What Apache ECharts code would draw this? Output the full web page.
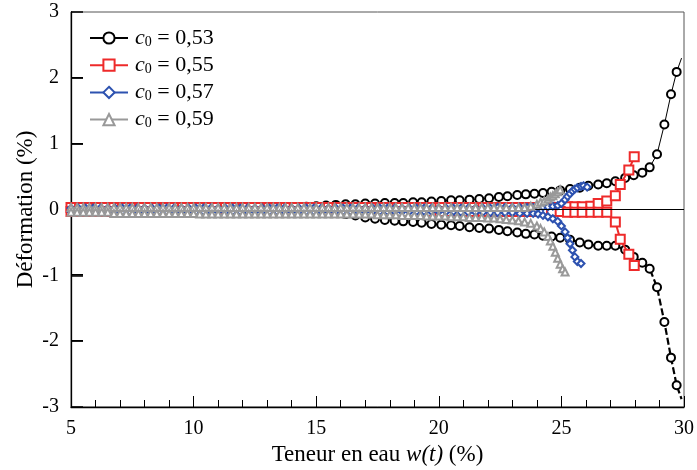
<!DOCTYPE html>
<html><head><meta charset="utf-8">
<script src="https://cdn.jsdelivr.net/npm/echarts@6/dist/echarts.min.js"></script>
<style>html,body{margin:0;padding:0;background:#fff}#c{width:697px;height:470px}</style>
</head><body><div id="c"></div>
<script>
// ---- data ----
const legendNames = ['c0 = 0,53', 'c0 = 0,55', 'c0 = 0,57', 'c0 = 0,59'];
const xTicks = [5, 10, 15, 20, 25, 30];
const yTicks = [-3, -2, -1, 0, 1, 2, 3];

const wBlack = [5.0,5.4,5.8,6.2,6.6,7.0,7.4,7.8,8.2,8.6,9.0,9.4,9.8,10.2,10.6,11.0,11.4,11.8,12.2,12.6,13.0,13.4,13.8,14.2,
  14.6,15.0,15.4,15.8,16.2,16.6,17.0,17.4,17.8,18.2,18.55,18.95,19.3,19.7,20.1,20.5,20.85,21.25,21.65,22.05,
  22.45,22.8,23.2,23.55,23.9,24.25,24.6,24.95,25.35,25.75,26.1,26.5,26.85,27.2,27.6,27.95,28.3,28.6,28.9,29.2,29.47,29.7,29.9];
const blackUp = [0.03,0.03,0.03,0.03,0.03,0.03,0.03,0.03,0.03,0.03,0.03,0.03,0.03,0.03,0.03,0.03,0.03,0.03,0.03,0.03,0.03,0.03,0.03,0.03,
  0.04,0.05,0.06,0.07,0.08,0.08,0.09,0.09,0.10,0.10,0.10,0.11,0.11,0.12,0.13,0.14,0.14,0.15,0.16,0.17,
  0.19,0.20,0.22,0.23,0.24,0.25,0.27,0.29,0.31,0.33,0.36,0.38,0.40,0.43,0.48,0.52,0.56,0.64,0.84,1.29,1.75,2.09,2.30];
const blackLow = [-0.03,-0.03,-0.03,-0.03,-0.03,-0.03,-0.03,-0.03,-0.03,-0.03,-0.03,-0.03,-0.03,-0.03,-0.03,-0.03,-0.03,-0.03,-0.03,-0.03,-0.03,-0.03,-0.03,-0.03,
  -0.03,-0.03,-0.04,-0.05,-0.07,-0.09,-0.12,-0.14,-0.16,-0.17,-0.18,-0.19,-0.20,-0.22,-0.23,-0.24,-0.25,-0.27,-0.28,-0.29,
  -0.31,-0.33,-0.35,-0.37,-0.38,-0.40,-0.41,-0.43,-0.46,-0.50,-0.53,-0.55,-0.55,-0.55,-0.61,-0.72,-0.81,-0.90,-1.18,-1.71,-2.25,-2.67,-2.88];

const wRed = [5.0,5.35,5.7,6.05,6.4,6.75,7.1,7.45,7.8,8.15,8.5,8.85,9.2,9.55,9.9,10.25,10.6,10.95,11.3,11.65,12.0,12.35,12.7,13.05,13.4,13.75,14.1,14.45,14.8,15.15,
  15.5,15.85,16.2,16.55,16.9,17.25,17.6,17.95,18.3,18.65,19.0,19.35,19.7,20.05,20.4,20.75,21.1,21.45,21.8,22.15,22.5,22.85,23.2,23.55,23.9,24.25,24.6,24.95,
  25.25,25.55,25.85,26.2,26.5,26.85,27.2,27.4,27.75,27.97];
const redUp = [0.03,0.03,0.03,0.03,0.03,0.03,0.03,0.03,0.03,0.03,0.03,0.03,0.03,0.03,0.03,0.03,0.03,0.03,0.03,0.03,0.03,0.03,0.03,0.03,0.03,0.03,0.03,0.03,0.03,0.03,
  0.03,0.03,0.03,0.03,0.03,0.03,0.03,0.03,0.03,0.03,0.03,0.03,0.03,0.03,0.03,0.03,0.03,0.03,0.03,0.03,0.03,0.03,0.03,0.03,0.03,0.03,0.03,0.03,
  0.04,0.04,0.04,0.05,0.09,0.13,0.21,0.38,0.60,0.80];
const redLow = [-0.03,-0.03,-0.03,-0.03,-0.03,-0.03,-0.03,-0.03,-0.03,-0.03,-0.03,-0.03,-0.03,-0.03,-0.03,-0.03,-0.03,-0.03,-0.03,-0.03,-0.03,-0.03,-0.03,-0.03,-0.03,-0.03,-0.03,-0.03,-0.03,-0.03,
  -0.03,-0.03,-0.03,-0.03,-0.03,-0.03,-0.03,-0.03,-0.03,-0.03,-0.03,-0.03,-0.03,-0.03,-0.03,-0.03,-0.03,-0.03,-0.03,-0.03,-0.03,-0.03,-0.03,-0.03,-0.03,-0.03,-0.03,-0.03,
  -0.04,-0.04,-0.04,-0.04,-0.04,-0.04,-0.19,-0.45,-0.68,-0.85];

const wBlue = [5.0,5.3,5.6,5.9,6.2,6.5,6.8,7.1,7.4,7.7,8.0,8.3,8.6,8.9,9.2,9.5,9.8,10.1,10.4,10.7,11.0,11.3,11.6,11.9,12.2,12.5,12.8,13.1,13.4,13.7,
  14.0,14.3,14.6,14.9,15.2,15.5,15.8,16.1,16.4,16.7,17.0,17.3,17.6,17.9,18.2,18.5,18.8,19.1,19.4,19.7,20.0,20.3,20.6,20.9,21.2,21.5,21.8,22.1,22.4,22.7,
  23.0,23.3,23.6,23.85,24.05,24.25,24.45,24.65,24.85,25.0,25.15,25.25,25.35,25.45,25.55,25.65,25.8,25.9,26.05];
const blueUp = [0.02,0.02,0.02,0.02,0.02,0.02,0.02,0.02,0.02,0.02,0.02,0.02,0.02,0.02,0.02,0.02,0.02,0.02,0.02,0.02,0.02,0.02,0.02,0.02,0.02,0.02,0.02,0.02,0.02,0.02,
  0.02,0.02,0.02,0.02,0.02,0.02,0.02,0.02,0.02,0.02,0.02,0.02,0.02,0.02,0.02,0.02,0.02,0.02,0.02,0.02,0.02,0.02,0.02,0.02,0.02,0.02,0.02,0.02,0.03,0.03,
  0.03,0.03,0.03,0.03,0.03,0.04,0.04,0.05,0.06,0.09,0.15,0.20,0.24,0.28,0.31,0.33,0.35,0.36,0.34];
const blueLow = [-0.03,-0.03,-0.03,-0.03,-0.03,-0.03,-0.03,-0.03,-0.03,-0.03,-0.03,-0.03,-0.03,-0.03,-0.03,-0.03,-0.03,-0.03,-0.03,-0.03,-0.03,-0.03,-0.03,-0.03,-0.03,-0.03,-0.03,-0.03,-0.03,-0.03,
  -0.03,-0.03,-0.03,-0.03,-0.03,-0.03,-0.03,-0.03,-0.03,-0.03,-0.03,-0.03,-0.03,-0.03,-0.03,-0.03,-0.03,-0.03,-0.03,-0.03,-0.03,-0.03,-0.03,-0.04,-0.04,-0.04,-0.04,-0.05,-0.05,-0.05,
  -0.05,-0.06,-0.06,-0.06,-0.07,-0.09,-0.11,-0.14,-0.18,-0.25,-0.34,-0.43,-0.52,-0.62,-0.72,-0.79,-0.82,null,null];

const wGray = [5,5.25,5.5,5.75,6,6.25,6.5,6.75,7,7.25,7.5,7.75,8,8.25,8.5,8.75,9,9.25,9.5,9.75,10,10.25,10.5,10.75,11,11.25,11.5,11.75,12,12.25,12.5,12.75,13,13.25,13.5,13.75,
  14,14.25,14.5,14.75,15,15.25,15.5,15.75,16,16.25,16.5,16.75,17,17.25,17.5,17.75,18,18.25,18.5,18.75,19,19.25,19.5,19.75,20,20.25,20.5,20.75,21,21.25,21.5,21.75,22,22.25,22.5,22.75,23,23.25,23.5,
  23.75,24.0,24.15,24.3,24.45,24.55,24.65,24.75,24.85,24.95,25.05,25.15];
const grayUp = [0.03,0.03,0.03,0.03,0.03,0.03,0.03,0.03,0.03,0.03,0.03,0.03,0.03,0.03,0.03,0.03,0.03,0.03,0.03,0.03,0.03,0.03,0.03,0.03,0.03,0.03,0.03,0.03,0.03,0.03,0.03,0.03,0.03,0.03,0.03,0.03,
  0.03,0.03,0.03,0.03,0.03,0.03,0.03,0.03,0.03,0.03,0.03,0.03,0.03,0.03,0.03,0.03,0.03,0.03,0.03,0.03,0.03,0.03,0.03,0.03,0.03,0.03,0.03,0.03,0.03,0.03,0.03,0.03,0.03,0.03,0.03,0.03,0.03,0.03,0.03,
  0.05,0.08,0.11,0.13,0.16,0.19,0.21,0.24,0.27,0.30,null,null];
const grayLow = [-0.04,-0.04,-0.04,-0.04,-0.04,-0.04,-0.04,-0.06,-0.06,-0.06,-0.06,-0.06,-0.06,-0.06,-0.06,-0.06,-0.06,-0.06,-0.06,-0.06,-0.06,-0.07,-0.07,-0.07,-0.07,-0.07,-0.07,-0.07,-0.07,-0.07,-0.07,-0.07,-0.07,-0.07,-0.07,-0.07,
  -0.07,-0.07,-0.07,-0.07,-0.07,-0.07,-0.07,-0.07,-0.07,-0.07,-0.07,-0.07,-0.07,-0.07,-0.08,-0.08,-0.08,-0.08,-0.09,-0.09,-0.09,-0.09,-0.10,-0.10,-0.10,-0.10,-0.11,-0.11,-0.11,-0.12,-0.12,-0.12,-0.13,-0.13,-0.14,-0.15,-0.16,-0.17,-0.19,
  -0.21,-0.25,-0.29,-0.34,-0.41,-0.48,-0.56,-0.65,-0.74,-0.83,-0.90,-0.95];

// ---- build ----
const SERIF = '"Liberation Serif", "DejaVu Serif", serif';
function pts(w, d, noLast) {
  const out = [];
  w.forEach((x, i) => {
    if (d[i] === null || d[i] === undefined) return;
    const item = { value: [x, d[i]] };
    if (noLast && i === w.length - 1) item.symbol = 'none';
    out.push(item);
  });
  return out;
}
function mk(name, data, color, symbol, size, lw, ltype, z) {
  return {
    type: 'line', name, data, z,
    symbol, symbolSize: size, showSymbol: true,
    lineStyle: { color, width: lw, type: ltype },
    itemStyle: { color, borderColor: color, borderWidth: 1.1 },
    emphasis: { disabled: true }, animation: false, clip: true
  };
}
const series = [
  mk(legendNames[0], pts(wBlack, blackUp, true), '#000000', 'emptyCircle', 8, 1, 'solid', 2),
  mk(legendNames[0], pts(wBlack, blackLow, true), '#000000', 'emptyCircle', 8, 2.2, [7, 3], 2),
  mk(legendNames[1], pts(wRed, redUp), '#ee2a2a', 'emptyRect', 9, 2, 'solid', 3),
  mk(legendNames[1], pts(wRed, redLow), '#ee2a2a', 'emptyRect', 9, 2, 'solid', 3),
  mk(legendNames[2], pts(wBlue, blueUp), '#2d52b0', 'emptyDiamond', 7, 1, 'solid', 4),
  mk(legendNames[2], pts(wBlue, blueLow), '#2d52b0', 'emptyDiamond', 7, 1, 'solid', 4),
  mk(legendNames[3], pts(wGray, grayUp), '#999999', 'emptyTriangle', 7, 1, 'solid', 5),
  mk(legendNames[3], pts(wGray, grayLow), '#999999', 'emptyTriangle', 7, 1, 'solid', 5)
];
// zero reference line
series[7].markLine = {
  silent: true, symbol: 'none', animation: false,
  label: { show: false },
  lineStyle: { color: '#000', width: 1, type: 'solid' },
  data: [{ yAxis: 0 }]
};

const chart = echarts.init(document.getElementById('c'), null, { renderer: 'canvas' });
chart.setOption({
  backgroundColor: '#fff',
  animation: false,
  textStyle: { fontFamily: SERIF },
  grid: { left: 71, right: 13, top: 12, bottom: 63, show: true, borderColor: '#555', borderWidth: 1,
          backgroundColor: 'transparent', containLabel: false, outerBoundsMode: 'none' },
  legend: {
    data: legendNames, orient: 'vertical', left: 84, top: 22,
    itemWidth: 38, itemHeight: 14, itemGap: 5.2,
    selectedMode: false,
    formatter: n => '{i|c}{s|0}{t|' + n.slice(2) + '}',
    textStyle: {
      fontFamily: SERIF, color: '#000', fontSize: 22, lineHeight: 22,
      rich: {
        i: { fontFamily: SERIF, fontStyle: 'italic', fontSize: 22, lineHeight: 22, color: '#000', padding: [0, 0, 0, 2] },
        s: { fontFamily: SERIF, fontSize: 14, lineHeight: 14, verticalAlign: 'bottom', color: '#000' },
        t: { fontFamily: SERIF, fontSize: 22, lineHeight: 22, color: '#000' }
      }
    }
  },
  xAxis: {
    type: 'value', min: 5, max: 30, interval: 5,
    name: '{a|Teneur en eau }{b|w(t)}{a| (%)}',
    nameLocation: 'middle', nameGap: 35,
    nameTextStyle: { rich: {
      a: { fontFamily: SERIF, fontSize: 23, color: '#000' },
      b: { fontFamily: SERIF, fontSize: 23, fontStyle: 'italic', color: '#000' } } },
    axisLine: { onZero: false, lineStyle: { color: '#000', width: 1.3 } },
    axisTick: { show: true, inside: true, length: 11, lineStyle: { color: '#000', width: 1 } },
    minorTick: { show: true, splitNumber: 5, length: 7, lineStyle: { color: '#000', width: 1 } },
    splitLine: { show: false },
    minorSplitLine: { show: false },
    axisLabel: { margin: 12, fontFamily: SERIF, fontSize: 20, color: '#000',
      formatter: v => (xTicks.indexOf(v) >= 0 ? String(v) : '') }
  },
  yAxis: {
    type: 'value', min: -3, max: 3, interval: 1,
    name: 'Déformation (%)', nameLocation: 'middle', nameGap: 34, nameRotate: 90, nameMoveOverlap: false,
    nameTextStyle: { fontFamily: SERIF, fontSize: 23, color: '#000' },
    axisLine: { show: true, onZero: false, lineStyle: { color: '#000', width: 1.3 } },
    axisTick: { show: true, inside: true, interval: 0, length: 12, lineStyle: { color: '#000', width: 1.5 } },
    minorTick: { show: false },
    splitLine: { show: false },
    axisLabel: { margin: 12, fontFamily: SERIF, fontSize: 20, color: '#000',
      formatter: v => (yTicks.indexOf(v) >= 0 ? String(v) : '') }
  },
  series
});

// inward y-axis tick marks, placed through the library's own scale
const x0 = Number(chart.convertToPixel({ xAxisIndex: 0 }, 5));
const tickEls = yTicks.filter(v => v !== 0 && Math.abs(v) !== 3).map(v => {
  const y = Math.round(Number(chart.convertToPixel({ yAxisIndex: 0 }, v)));
  return { type: 'rect', silent: true, z: 100, zlevel: 1,
    shape: { x: x0, y: y - 1, width: 12, height: 1.6 },
    style: { fill: '#000' } };
});
chart.setOption({ graphic: { elements: tickEls } });
</script></body></html>
